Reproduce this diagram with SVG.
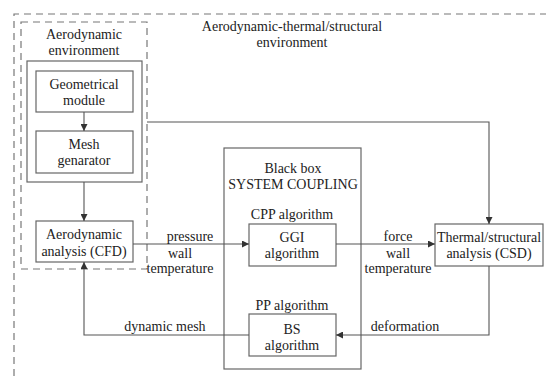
<svg xmlns="http://www.w3.org/2000/svg" width="546" height="376" viewBox="0 0 546 376">
<defs>
<marker id="ah" viewBox="0 0 10 10" refX="10" refY="5" markerWidth="8" markerHeight="7" markerUnits="userSpaceOnUse" orient="auto">
<path d="M0,0 L10,5 L0,10 Z" fill="#333"/>
</marker>
<style>
.box{fill:#fff;stroke:#666;stroke-width:1.2}
.dash{fill:none;stroke:#777;stroke-width:1.2;stroke-dasharray:7 5}
.ln{fill:none;stroke:#555;stroke-width:1.1}
text{font-family:'Liberation Serif','DejaVu Serif',serif;font-size:14px;fill:#222;text-anchor:middle}
</style>
</defs>
<rect width="546" height="376" fill="#fff"/>
<g id="outer-env">
<path class="dash" d="M14,376 L14,14 L546,14"/>
<text x="292" y="31">Aerodynamic-thermal/structural</text>
<text x="292" y="47">environment</text>
</g>
<g id="aero-env">
<rect class="dash" x="21" y="22" width="126" height="247"/>
<text x="84" y="39">Aerodynamic</text>
<text x="84" y="55">environment</text>
<rect class="box" x="27" y="61" width="115" height="121"/>
</g>
<g id="geo">
<rect class="box" x="36" y="71" width="97" height="41"/>
<text x="84" y="89">Geometrical</text>
<text x="84" y="105">module</text>
</g>
<g id="mesh">
<rect class="box" x="36" y="131" width="97" height="42"/>
<text x="84" y="149">Mesh</text>
<text x="84" y="165">genarator</text>
</g>
<g id="cfd">
<rect class="box" x="36" y="221" width="97" height="41"/>
<text x="84" y="239">Aerodynamic</text>
<text x="84" y="256">analysis (CFD)</text>
</g>
<g id="blackbox">
<rect class="box" x="224" y="148" width="137" height="221"/>
<text x="293" y="173">Black box</text>
<text x="293" y="189">SYSTEM COUPLING</text>
<text x="292" y="219">CPP algorithm</text>
<text x="292" y="310">PP algorithm</text>
</g>
<g id="ggi">
<rect class="box" x="249" y="224" width="87" height="42"/>
<text x="292" y="242">GGI</text>
<text x="292" y="258">algorithm</text>
</g>
<g id="bs">
<rect class="box" x="249" y="314" width="87" height="42"/>
<text x="292" y="334">BS</text>
<text x="292" y="350">algorithm</text>
</g>
<g id="csd">
<rect class="box" x="435" y="224" width="108" height="42"/>
<text x="489" y="242">Thermal/structural</text>
<text x="489" y="258">analysis (CSD)</text>
</g>
<g id="connectors">
<path class="ln" d="M84,112 L84,131" marker-end="url(#ah)"/>
<path class="ln" d="M84,182 L84,221" marker-end="url(#ah)"/>
<path class="ln" d="M147,122 L489,122 L489,224" marker-end="url(#ah)"/>
<path class="ln" d="M133,244 L249,244" marker-end="url(#ah)"/>
<path class="ln" d="M336,244 L435,244" marker-end="url(#ah)"/>
<path class="ln" d="M489,266 L489,335 L336,335" marker-end="url(#ah)"/>
<path class="ln" d="M249,335 L84,335 L84,262" marker-end="url(#ah)"/>
<text x="190" y="241">pressure</text>
<text x="180" y="258">wall</text>
<text x="180" y="273">temperature</text>
<text x="398" y="241">force</text>
<text x="398" y="258">wall</text>
<text x="398" y="273">temperature</text>
<text x="405" y="331">deformation</text>
<text x="165" y="331">dynamic mesh</text>
</g>
</svg>
